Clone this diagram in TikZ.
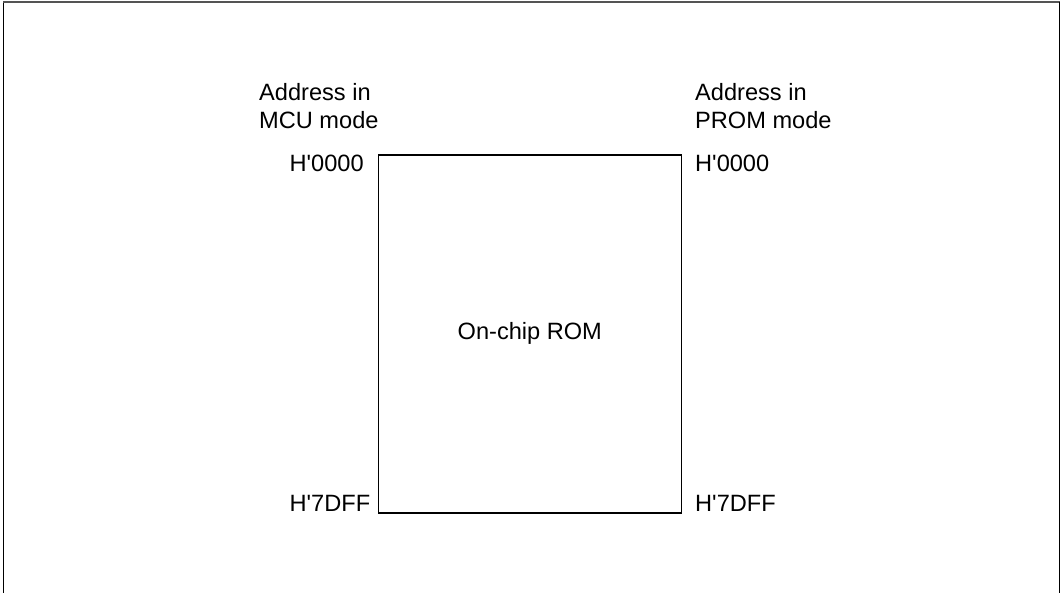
\documentclass[tikz,border=0pt]{standalone}
\usepackage{fontspec}
\setmainfont{Liberation Sans}[Ligatures=ResetAll]
\begin{document}
\begin{tikzpicture}[x=1pt,y=-1pt,
  lbl/.style={inner sep=0pt,anchor=base west,font=\fontsize{23.6}{27.5}\selectfont},
  rom/.style={draw=black,line width=1.6pt,inner sep=0pt}]
\useasboundingbox (0,0) rectangle (1061,593);
% outer frame (open at bottom)
\draw[line width=1.5pt,black] (3.3,593) -- (3.3,1.8);
\draw[line width=1.8pt,black!67] (3.3,1.8) -- (1059.7,1.8);
\draw[line width=1.5pt,black] (1059.7,1.8) -- (1059.7,593);
% ROM block
\coordinate (tl) at (377.5,154);
\node[rom,minimum width=303pt,minimum height=358pt,anchor=north west] (romblk) at (tl) {};
\node[font=\fontsize{23.6}{27.5}\selectfont,inner sep=0pt] (romtxt) at (romblk.center) {On-chip ROM};
% left labels
\node[lbl] (mcu1) at (259,101) {Address in};
\node[lbl] (mcu2) at (259,128.5) {MCU mode};
\node[lbl] (mcutop) at (289.5,171.5) {H\textquotesingle 0000};
\node[lbl] (mcubot) at (289.5,511.5) {H\textquotesingle 7DFF};
% right labels
\node[lbl] (prom1) at (695,101) {Address in};
\node[lbl] (prom2) at (695,128.5) {PROM mode};
\node[lbl] (promtop) at (695,171.5) {H\textquotesingle 0000};
\node[lbl] (prombot) at (695,511.5) {H\textquotesingle 7DFF};
\end{tikzpicture}
\end{document}
